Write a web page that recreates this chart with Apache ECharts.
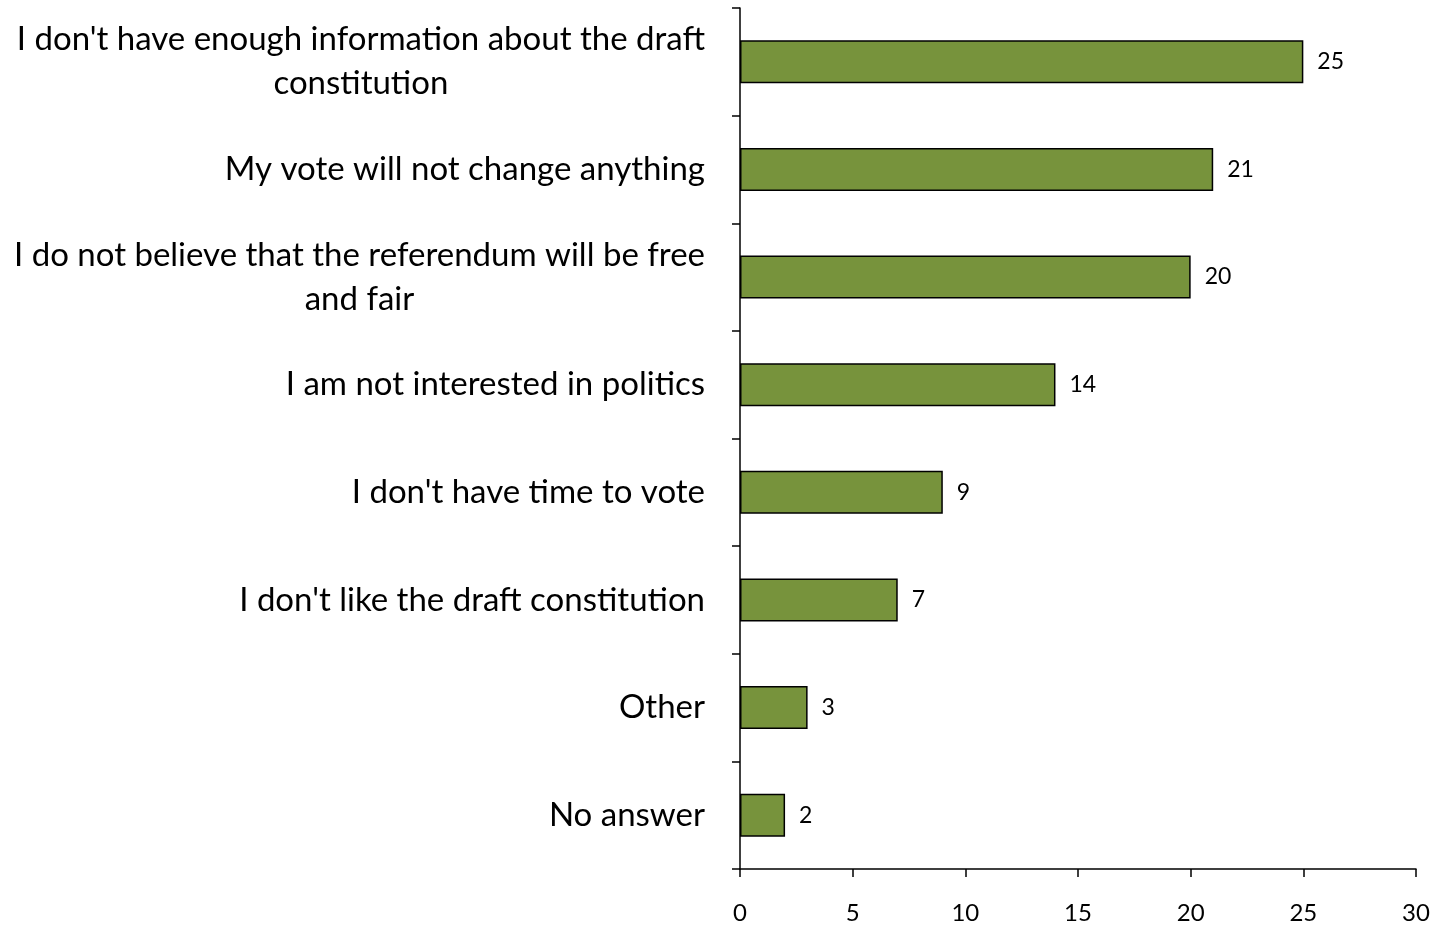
<!DOCTYPE html>
<html>
<head>
<meta charset="utf-8">
<script src="https://cdn.jsdelivr.net/npm/echarts@6/dist/echarts.min.js"></script>
<style>html,body{margin:0;padding:0;background:#fff;}#c{width:1441px;height:925px;}</style>
</head>
<body>
<div id="c"></div>
<script>
const categories = [
  "I don't have enough information about the draft\nconstitution",
  "My vote will not change anything",
  "I do not believe that the referendum will be free\nand fair",
  "I am not interested in politics",
  "I don't have time to vote",
  "I don't like the draft constitution",
  "Other",
  "No answer"
];
const values = [25, 21, 20, 14, 9, 7, 3, 2];
const xTicks = [0, 5, 10, 15, 20, 25, 30];

const FONT = 'Lato';
const chart = echarts.init(document.getElementById('c'), null, {renderer: 'canvas'});
chart.setOption({
  animation: false,
  backgroundColor: '#ffffff',
  grid: {left: 740, right: 25, top: 8, bottom: 55, containLabel: false},
  xAxis: {
    type: 'value',
    min: xTicks[0], max: xTicks[xTicks.length - 1], interval: 5,
    axisLine: {show: true, lineStyle: {color: '#000', width: 1.5}},
    axisTick: {show: true, length: 8, lineStyle: {color: '#000', width: 1.5}},
    splitLine: {show: false},
    axisLabel: {color: '#000', fontFamily: FONT, fontSize: 24, margin: 32}
  },
  yAxis: {
    type: 'category',
    inverse: true,
    data: categories,
    axisLine: {show: true, lineStyle: {color: '#000', width: 1.5}},
    axisTick: {show: true, length: 8, lineStyle: {color: '#000', width: 1.5}},
    axisLabel: {
      color: '#000', fontFamily: FONT, fontSize: 33, margin: 35, lineHeight: 44,
      formatter: function (v) {
        return v.split('\n').map(function (l) { return '{c|' + l + '}'; }).join('\n');
      },
      rich: {c: {align: 'center', fontFamily: FONT, fontSize: 33, color: '#000', lineHeight: 44}}
    }
  },
  series: [{
    type: 'bar',
    data: values,
    barCategoryGap: '60%',
    itemStyle: {color: '#77933C', borderColor: '#000', borderWidth: 1.5},
    label: {show: true, position: 'right', distance: 14, color: '#000', fontFamily: FONT, fontSize: 23}
  }]
});
</script>
</body>
</html>
